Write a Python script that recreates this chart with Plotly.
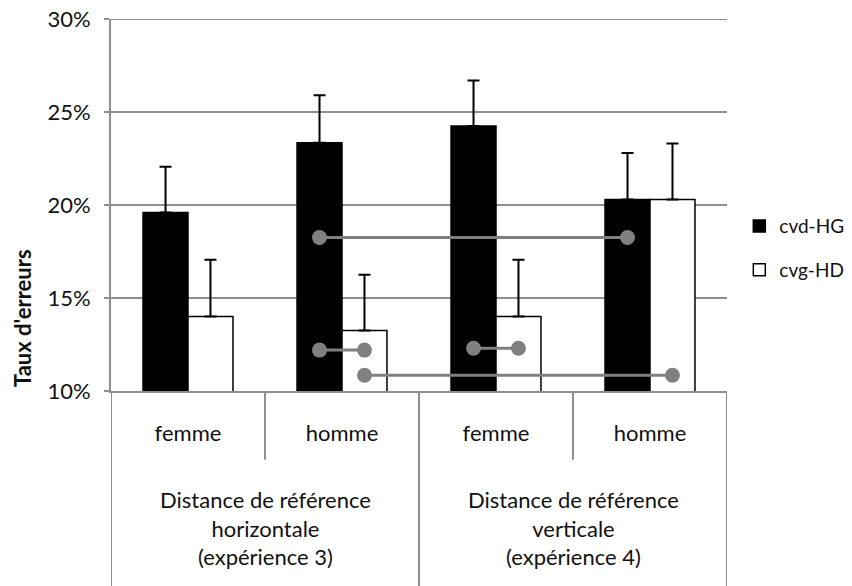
import plotly.graph_objects as go

# Données (taux d'erreurs en %)
categories = ["femme", "homme", "femme", "homme"]
groups = [
    "Distance de référence<br>horizontale<br>(expérience 3)",
    "Distance de référence<br>verticale<br>(expérience 4)",
]
series_names = ["cvd-HG", "cvg-HD"]
cvd_hg = [19.6, 23.35, 24.25, 20.3]
cvd_hg_err = [2.45, 2.55, 2.45, 2.5]
cvg_hd = [14.0, 13.25, 14.0, 20.3]
cvg_hd_err = [3.05, 3.0, 3.05, 3.0]
y_range = [10, 30]

# Comparaisons significatives : (catégorie, série) -> (catégorie, série), niveau y
links = [
    ((1, 0), (3, 0), 18.25),
    ((1, 0), (1, 1), 12.2),
    ((2, 0), (2, 1), 12.3),
    ((1, 1), (3, 1), 10.85),
]

FONT = "Lato"
TXT = "#111111"
GRID = "#8f8f8f"
BARGAP = 0.416
half = (1 - BARGAP) / 2  # largeur d'une barre
offsets = [-half / 2, half / 2]

x_idx = list(range(len(categories)))

fig = go.Figure()

fig.add_trace(go.Bar(
    x=x_idx, y=cvd_hg, name=series_names[0],
    marker=dict(color="black", line=dict(color="black", width=1.5)),
    error_y=dict(type="data", array=cvd_hg_err, arrayminus=[0] * 4, symmetric=False,
                 color="black", thickness=2, width=6),
    legendgroup="a",
))
fig.add_trace(go.Bar(
    x=x_idx, y=cvg_hd, name=series_names[1],
    marker=dict(color="white", line=dict(color="black", width=1.5)),
    error_y=dict(type="data", array=cvg_hd_err, arrayminus=[0] * 4, symmetric=False,
                 color="black", thickness=2, width=6),
    legendgroup="b",
))

for (c0, s0), (c1, s1), yv in links:
    fig.add_trace(go.Scatter(
        x=[c0 + offsets[s0], c1 + offsets[s1]], y=[yv, yv],
        mode="lines+markers",
        line=dict(color="#808080", width=3),
        marker=dict(color="#808080", size=15),
        showlegend=False, hoverinfo="skip",
    ))

# séparateurs de catégories sous l'axe
shapes = []
for b in [-0.5, 1.5, 3.5]:
    shapes.append(dict(type="line", xref="x", yref="paper", x0=b, x1=b, y0=0, y1=-0.53,
                       line=dict(color=GRID, width=2)))
for b in [0.5, 2.5]:
    shapes.append(dict(type="line", xref="x", yref="paper", x0=b, x1=b, y0=0, y1=-0.185,
                       line=dict(color=GRID, width=2)))
# ligne de grille du haut (plotly ne la trace pas au bord)
shapes.append(dict(type="line", xref="paper", yref="y", x0=0, x1=1,
                   y0=y_range[1], y1=y_range[1], line=dict(color=GRID, width=2), layer="below"))

annotations = []
for i, g in enumerate(groups):
    annotations.append(dict(
        x=2 * i + 0.5, xref="x", y=-0.368, yref="paper", text=g, showarrow=False,
        font=dict(family=FONT, size=22, color=TXT), align="center",
        xanchor="center", yanchor="middle",
    ))
annotations.append(dict(
    x=0, xref="paper", xshift=-89, y=0.196, yref="paper", text="<b>Taux d'erreurs</b>",
    textangle=-90, showarrow=False, font=dict(family=FONT, size=22, color=TXT),
    xanchor="center", yanchor="middle",
))

# la page ajoute une marge de 8 px autour de la figure
fig.update_layout(
    width=844, height=578,
    margin=dict(l=103, r=125, t=11, b=195, autoexpand=False),
    paper_bgcolor="white", plot_bgcolor="white",
    barmode="group", bargap=BARGAP, bargroupgap=0,
    font=dict(family=FONT, size=22, color=TXT),
    showlegend=True,
    legend=dict(x=1.02, xanchor="left", y=0.384, yanchor="middle",
                font=dict(family=FONT, size=19, color=TXT),
                tracegroupgap=16, bgcolor="rgba(0,0,0,0)"),
    xaxis=dict(range=[-0.5, 3.5], tickvals=x_idx, ticktext=categories,
               showline=True, linecolor=GRID, linewidth=2, showgrid=False,
               ticks="", zeroline=False, ticklabelstandoff=22, automargin=False),
    yaxis=dict(range=y_range, dtick=5, ticksuffix="%", showgrid=True,
               gridcolor=GRID, gridwidth=2, showline=True, linecolor=GRID, linewidth=2,
               ticks="outside", ticklen=5, tickcolor=GRID, tickwidth=2,
               zeroline=False, ticklabelstandoff=9, automargin=False,
               ticklabeloverflow="allow", tickfont=dict(size=22)),
    shapes=shapes, annotations=annotations,
)

fig.write_html("out.html")
